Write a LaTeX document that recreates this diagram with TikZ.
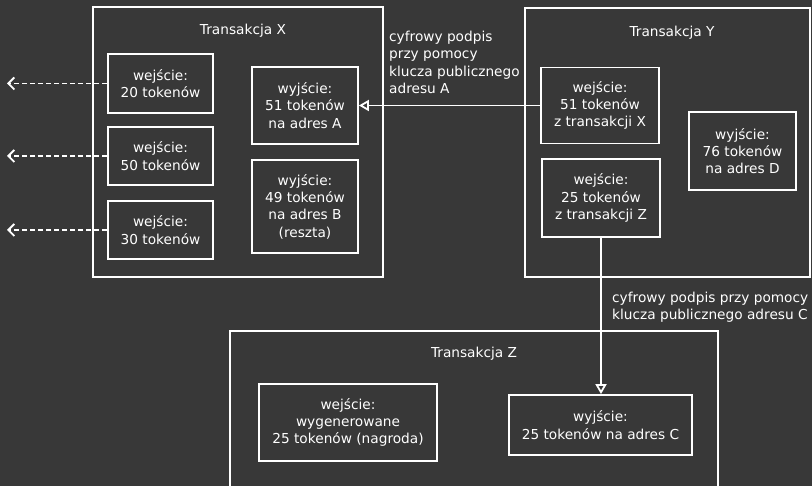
\documentclass[tikz,border=0pt]{standalone}
\usepackage{fontspec}
\setmainfont{DejaVu Sans}
\usepackage{xcolor}
\usetikzlibrary{arrows.meta, positioning}
\definecolor{tlo}{RGB}{56,56,56}
\tikzset{
	ramka/.style={draw=white, line width=1.8pt, inner sep=0pt, align=center, text=white},
	tytul/.style={text=white, inner sep=0pt},
	opis/.style={text=white, align=left, anchor=north west, inner sep=0pt},
	podpis/.style={draw=white, line width=1.8pt, -{Triangle[open, length=10pt, width=11pt]}},
	wydane/.style={draw=white, line width=1.8pt, dash pattern=on 5pt off 3pt,
		-{Straight Barb[length=6pt, width=12pt]}}
}

\begin{document}
\begin{tikzpicture}[x=1pt, y=-1pt, font=\fontsize{13.7}{17.3}\selectfont]
			\fill [tlo] (0,0) rectangle (812,486);
			\useasboundingbox (0,0) rectangle (812,486);
			\clip (0,0) rectangle (812,486);
			%%
			\node [ramka, minimum width=290pt, minimum height=270pt] (tx) at (238,142) {};
			\node [ramka, minimum width=285pt, minimum height=269pt] (ty) at (667.5,142.5) {};
			\node [ramka, minimum width=488pt, minimum height=170pt] (tz) at (474,416) {};
			\node [tytul] (tytX) at (243,31) {Transakcja X};
			\node [tytul] (tytY) at (672,33) {Transakcja Y};
			\node [tytul] (tytZ) at (474,353.5) {Transakcja Z};
			%%
			\node [ramka, minimum width=105pt, minimum height=59pt] (we1) at (160.5,83.5) {wejście:\\20 tokenów};
			\node [ramka, minimum width=105pt, minimum height=58pt] (we2) at (160.5,156) {wejście:\\50 tokenów};
			\node [ramka, minimum width=105pt, minimum height=58pt] (we3) at (160.5,230) {wejście:\\30 tokenów};
			\node [ramka, minimum width=106pt, minimum height=77pt] (wyA) at (305,105.5) {wyjście:\\51 tokenów\\na adres A};
			\node [ramka, minimum width=106pt, minimum height=93pt] (wyB) at (305,206.5) {wyjście:\\49 tokenów\\na adres B\\(reszta)};
			%%
			\node [ramka, minimum width=118pt, minimum height=76pt] (weX) at (600,105.5) {wejście:\\51 tokenów\\z transakcji X};
			\node [ramka, minimum width=118pt, minimum height=78pt] (weZ) at (601,198) {wejście:\\25 tokenów\\z transakcji Z};
			\node [ramka, minimum width=107pt, minimum height=78pt] (wyD) at (742.5,151) {wyjście:\\76 tokenów\\na adres D};
			%%
			\node [ramka, minimum width=178pt, minimum height=77pt] (weN) at (348,422.5) {wejście:\\wygenerowane\\25 tokenów (nagroda)};
			\node [ramka, minimum width=183pt, minimum height=60pt] (wyC) at (600.5,425) {wyjście:\\25 tokenów na adres C};
			%%
			\node [opis] (podpisA) at (389,31) {cyfrowy podpis\\przy pomocy\\klucza publicznego\\adresu A};
			\node [opis] (podpisC) at (612,292) {cyfrowy podpis przy pomocy\\klucza publicznego adresu C};
			%%
			\coordinate (lewo) at (7,0);
			\foreach \w in {we1, we2, we3} {
				\draw [wydane] (\w.west) -- (\w.west -| lewo);
			}
			\draw [podpis] (weX.west) -- (weX.west -| wyA.east);
			\draw [podpis] (weZ.south) -- (weZ.south |- wyC.north);
		\end{tikzpicture}
\end{document}
